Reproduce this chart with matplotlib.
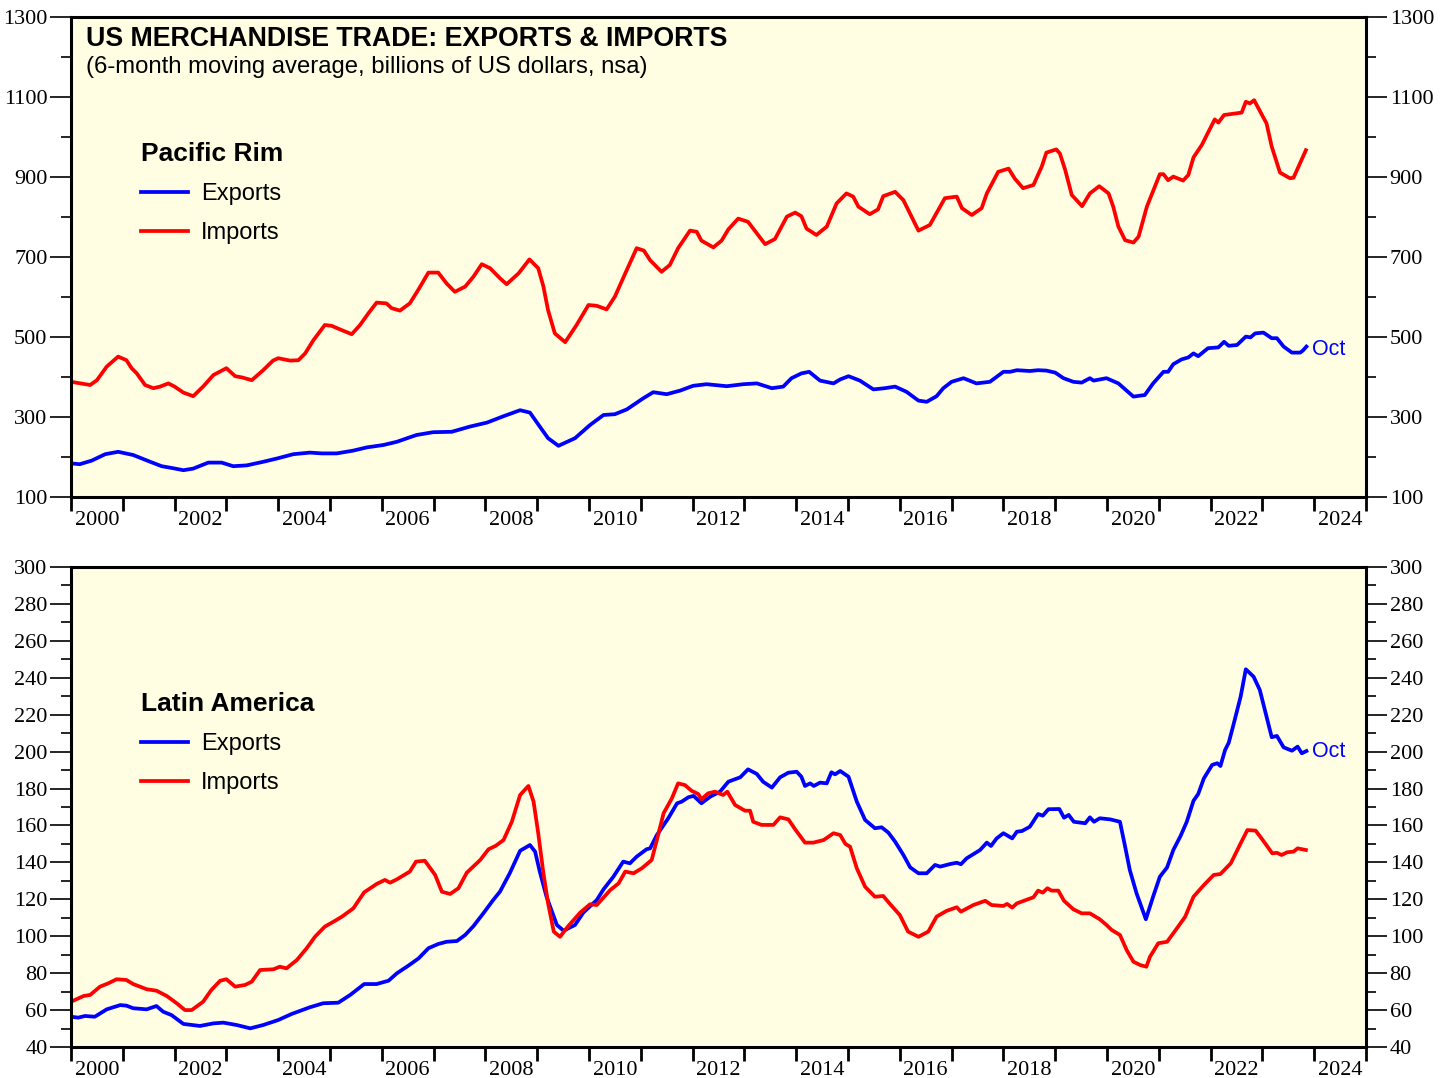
import numpy as np
import matplotlib.pyplot as plt
from matplotlib.ticker import FixedLocator, MultipleLocator, NullFormatter

# Pacific Rim, exports (time in decimal years, values in billions of US$)
pr_exp_t = [2000.0, 2000.17, 2000.4, 2000.66, 2000.91, 2001.2, 2001.53, 2001.75, 2001.97, 2002.17,
            2002.36, 2002.65, 2002.91, 2003.13, 2003.39, 2003.71, 2004.0, 2004.29, 2004.61, 2004.84,
            2005.13, 2005.45, 2005.71, 2006.03, 2006.29, 2006.67, 2006.99, 2007.35, 2007.7, 2008.03,
            2008.35, 2008.67, 2008.86, 2009.05, 2009.21, 2009.41, 2009.73, 2010.02, 2010.28, 2010.5,
            2010.73, 2011.05, 2011.24, 2011.5, 2011.76, 2012.01, 2012.27, 2012.66, 2012.98, 2013.24,
            2013.53, 2013.75, 2013.91, 2014.1, 2014.25, 2014.46, 2014.72, 2014.85, 2015.01, 2015.23,
            2015.49, 2015.71, 2015.91, 2016.13, 2016.36, 2016.52, 2016.71, 2016.84, 2017.0, 2017.23,
            2017.48, 2017.74, 2018.0, 2018.13, 2018.26, 2018.51, 2018.67, 2018.83, 2019.0, 2019.16,
            2019.35, 2019.51, 2019.67, 2019.74, 2019.99, 2020.22, 2020.51, 2020.73, 2020.89, 2021.09,
            2021.18, 2021.28, 2021.44, 2021.57, 2021.67, 2021.76, 2021.95, 2022.15, 2022.26, 2022.35,
            2022.51, 2022.68, 2022.77, 2022.86, 2023.02, 2023.18, 2023.28, 2023.41, 2023.57, 2023.73,
            2023.78, 2023.85]
pr_exp_v = [184, 182, 191, 207, 213, 205, 188, 177, 172, 167,
            171, 186, 186, 177, 179, 188, 197, 207, 211, 209,
            209, 216, 224, 230, 238, 255, 262, 263, 276, 286,
            302, 317, 311, 276, 247, 228, 247, 280, 305, 307,
            319, 347, 362, 357, 366, 378, 382, 377, 382, 384,
            372, 376, 397, 409, 413, 391, 384, 394, 402, 391,
            369, 372, 376, 363, 341, 338, 352, 372, 388, 397,
            384, 388, 413, 413, 417, 415, 417, 416, 411, 397,
            388, 386, 397, 391, 397, 384, 351, 355, 384, 413,
            413, 432, 444, 449, 459, 452, 472, 474, 488, 478,
            480, 501, 499, 509, 511, 497, 497, 476, 461, 461,
            466, 476]

# Pacific Rim, imports
pr_imp_t = [2000.0, 2000.37, 2000.5, 2000.69, 2000.91, 2001.07, 2001.17, 2001.27, 2001.43, 2001.59,
            2001.72, 2001.88, 2002.0, 2002.17, 2002.36, 2002.55, 2002.75, 2003.0, 2003.17, 2003.3,
            2003.49, 2003.71, 2003.9, 2004.0, 2004.23, 2004.39, 2004.52, 2004.68, 2004.9, 2005.03,
            2005.23, 2005.42, 2005.58, 2005.74, 2005.9, 2006.09, 2006.19, 2006.35, 2006.54, 2006.7,
            2006.9, 2007.09, 2007.25, 2007.41, 2007.61, 2007.77, 2007.93, 2008.09, 2008.28, 2008.41,
            2008.64, 2008.85, 2009.02, 2009.12, 2009.21, 2009.34, 2009.54, 2009.76, 2009.99, 2010.15,
            2010.34, 2010.5, 2010.7, 2010.92, 2011.06, 2011.18, 2011.4, 2011.56, 2011.72, 2011.95,
            2012.08, 2012.17, 2012.4, 2012.56, 2012.69, 2012.88, 2013.07, 2013.17, 2013.4, 2013.59,
            2013.82, 2013.98, 2014.1, 2014.2, 2014.39, 2014.59, 2014.78, 2014.97, 2015.1, 2015.2,
            2015.42, 2015.58, 2015.68, 2015.91, 2016.07, 2016.36, 2016.58, 2016.87, 2017.1, 2017.2,
            2017.39, 2017.58, 2017.68, 2017.9, 2018.1, 2018.22, 2018.38, 2018.58, 2018.74, 2018.83,
            2019.02, 2019.09, 2019.19, 2019.32, 2019.52, 2019.67, 2019.85, 2020.03, 2020.12, 2020.22,
            2020.35, 2020.51, 2020.61, 2020.77, 2021.02, 2021.09, 2021.18, 2021.28, 2021.47, 2021.57,
            2021.67, 2021.83, 2022.08, 2022.15, 2022.26, 2022.6, 2022.68, 2022.76, 2022.84, 2023.08,
            2023.18, 2023.34, 2023.53, 2023.6, 2023.84]
pr_imp_v = [388, 380, 392, 426, 451, 442, 422, 409, 380, 372,
            376, 384, 376, 361, 352, 376, 405, 422, 402, 399,
            392, 417, 441, 447, 441, 442, 459, 492, 530, 528,
            517, 507, 530, 559, 586, 584, 572, 566, 584, 617,
            661, 661, 634, 613, 626, 651, 682, 672, 647, 632,
            659, 694, 672, 626, 567, 509, 487, 530, 580, 578,
            569, 601, 659, 722, 716, 692, 663, 680, 722, 766,
            763, 741, 724, 741, 769, 796, 788, 771, 732, 745,
            801, 811, 802, 771, 755, 776, 834, 859, 851, 826,
            807, 819, 852, 863, 842, 766, 780, 847, 851, 822,
            805, 822, 859, 913, 921, 896, 872, 880, 926, 961,
            969, 959, 919, 855, 827, 859, 877, 859, 826, 776,
            742, 736, 751, 826, 907, 907, 892, 901, 891, 905,
            949, 980, 1044, 1036, 1055, 1061, 1088, 1084, 1092, 1034,
            976, 911, 897, 898, 967]

# Latin America, exports
la_exp_t = [2000.0, 2000.14, 2000.27, 2000.46, 2000.69, 2000.95, 2001.07, 2001.2, 2001.46, 2001.65,
            2001.78, 2001.94, 2002.17, 2002.49, 2002.75, 2002.94, 2003.2, 2003.46, 2003.71, 2004.0,
            2004.26, 2004.61, 2004.87, 2005.16, 2005.39, 2005.66, 2005.9, 2006.13, 2006.29, 2006.51,
            2006.71, 2006.9, 2007.09, 2007.25, 2007.45, 2007.61, 2007.77, 2007.96, 2008.15, 2008.28,
            2008.47, 2008.67, 2008.86, 2008.96, 2009.05, 2009.18, 2009.38, 2009.51, 2009.73, 2009.89,
            2010.15, 2010.28, 2010.47, 2010.66, 2010.79, 2010.92, 2011.11, 2011.18, 2011.31, 2011.53,
            2011.7, 2011.79, 2011.92, 2012.02, 2012.17, 2012.34, 2012.53, 2012.69, 2012.92, 2013.07,
            2013.24, 2013.36, 2013.53, 2013.69, 2013.85, 2014.01, 2014.1, 2014.17, 2014.27, 2014.34,
            2014.46, 2014.59, 2014.68, 2014.75, 2014.85, 2015.01, 2015.17, 2015.33, 2015.52, 2015.65,
            2015.78, 2015.91, 2016.07, 2016.2, 2016.36, 2016.52, 2016.68, 2016.78, 2016.97, 2017.1,
            2017.18, 2017.29, 2017.55, 2017.68, 2017.76, 2017.87, 2018.0, 2018.17, 2018.26, 2018.36,
            2018.51, 2018.67, 2018.76, 2018.87, 2019.08, 2019.17, 2019.26, 2019.36, 2019.58, 2019.67,
            2019.75, 2019.86, 2020.06, 2020.25, 2020.35, 2020.44, 2020.57, 2020.75, 2020.89, 2021.02,
            2021.16, 2021.28, 2021.42, 2021.54, 2021.67, 2021.76, 2021.87, 2022.03, 2022.13, 2022.19,
            2022.28, 2022.35, 2022.44, 2022.58, 2022.68, 2022.83, 2022.95, 2023.08, 2023.18, 2023.28,
            2023.41, 2023.57, 2023.68, 2023.76, 2023.85]
la_exp_v = [56.4, 55.9, 56.8, 56.4, 60.4, 62.7, 62.4, 61.0, 60.4, 62.2,
            59.1, 57.3, 52.5, 51.4, 52.8, 53.2, 51.9, 50.1, 51.9, 54.6,
            57.9, 61.5, 63.7, 64.0, 68.2, 74.1, 74.1, 75.9, 79.9, 84.0,
            88.0, 93.5, 95.8, 97.0, 97.4, 100.7, 105.5, 112.4, 119.6, 124.1,
            134.1, 146.3, 149.4, 145.8, 135.0, 121.4, 106.1, 103.0, 106.1, 112.8,
            119.6, 125.4, 132.2, 140.4, 139.5, 143.1, 147.1, 147.6, 154.8, 163.9,
            172.0, 172.9, 175.3, 176.0, 172.0, 175.6, 178.3, 183.7, 186.1, 190.4,
            187.9, 183.7, 180.5, 186.1, 188.6, 189.1, 186.4, 181.4, 182.8, 181.4,
            183.2, 182.8, 188.8, 187.7, 189.5, 186.4, 172.9, 163.0, 158.5, 159.0,
            156.1, 151.2, 144.0, 137.3, 134.1, 134.1, 138.6, 137.7, 139.1, 139.8,
            139.0, 142.2, 146.7, 150.7, 148.9, 153.0, 155.8, 153.0, 156.6, 157.0,
            159.3, 166.2, 165.3, 168.8, 168.9, 164.2, 165.7, 162.0, 161.2, 164.4,
            162.0, 163.9, 163.3, 162.0, 148.5, 135.9, 123.3, 109.2, 121.4, 132.2,
            137.3, 146.7, 154.3, 162.0, 173.4, 177.0, 185.5, 192.8, 193.7, 192.2,
            200.9, 204.8, 214.4, 229.8, 244.6, 240.6, 233.4, 218.9, 207.8, 208.5,
            202.3, 200.5, 202.7, 199.1, 200.3]

# Latin America, imports
la_imp_t = [2000.0, 2000.24, 2000.37, 2000.56, 2000.72, 2000.88, 2001.07, 2001.2, 2001.46, 2001.65,
            2001.85, 2002.04, 2002.2, 2002.33, 2002.55, 2002.71, 2002.88, 2003.0, 2003.17, 2003.36,
            2003.49, 2003.65, 2003.91, 2004.03, 2004.16, 2004.36, 2004.55, 2004.71, 2004.9, 2005.1,
            2005.23, 2005.45, 2005.66, 2005.9, 2006.06, 2006.16, 2006.29, 2006.54, 2006.66, 2006.83,
            2007.03, 2007.16, 2007.32, 2007.48, 2007.64, 2007.9, 2008.06, 2008.2, 2008.35, 2008.51,
            2008.67, 2008.83, 2008.93, 2009.02, 2009.12, 2009.21, 2009.32, 2009.44, 2009.6, 2009.83,
            2010.02, 2010.15, 2010.41, 2010.57, 2010.7, 2010.86, 2011.02, 2011.21, 2011.31, 2011.44,
            2011.6, 2011.72, 2011.85, 2011.98, 2012.11, 2012.17, 2012.3, 2012.43, 2012.59, 2012.67,
            2012.82, 2013.01, 2013.11, 2013.17, 2013.33, 2013.56, 2013.69, 2013.85, 2013.98, 2014.17,
            2014.33, 2014.53, 2014.72, 2014.85, 2014.95, 2015.04, 2015.17, 2015.33, 2015.52, 2015.68,
            2015.81, 2016.0, 2016.16, 2016.36, 2016.55, 2016.71, 2016.9, 2017.1, 2017.18, 2017.42,
            2017.65, 2017.77, 2018.0, 2018.07, 2018.17, 2018.26, 2018.58, 2018.67, 2018.76, 2018.85,
            2018.93, 2019.06, 2019.17, 2019.35, 2019.51, 2019.67, 2019.86, 2019.99, 2020.09, 2020.25,
            2020.38, 2020.51, 2020.64, 2020.76, 2020.83, 2020.99, 2021.16, 2021.35, 2021.51, 2021.67,
            2021.87, 2022.06, 2022.19, 2022.39, 2022.58, 2022.71, 2022.87, 2023.03, 2023.19, 2023.28,
            2023.37, 2023.48, 2023.6, 2023.68, 2023.84]
la_imp_v = [64.5, 67.6, 68.2, 72.7, 74.5, 76.7, 76.3, 74.1, 71.3, 70.5,
            67.6, 63.7, 60.0, 60.0, 64.5, 70.9, 75.9, 76.7, 72.7, 73.6,
            75.4, 81.7, 82.1, 83.5, 82.6, 87.1, 93.5, 99.7, 105.2, 108.4,
            110.6, 115.1, 123.8, 128.3, 130.5, 129.0, 130.8, 135.0, 140.4, 140.9,
            133.2, 124.1, 122.9, 126.0, 134.4, 141.3, 147.1, 149.0, 152.1, 162.0,
            176.5, 181.4, 172.9, 155.8, 134.1, 117.8, 102.5, 99.7, 105.5, 112.8,
            117.3, 116.9, 125.0, 128.6, 135.0, 134.1, 136.8, 141.3, 152.1, 166.6,
            174.7, 182.8, 181.9, 178.8, 177.0, 174.2, 177.4, 178.3, 176.5, 178.3,
            171.1, 168.0, 168.0, 162.0, 160.3, 160.3, 164.4, 163.3, 157.9, 150.7,
            150.7, 152.1, 155.8, 154.8, 150.0, 148.5, 136.8, 126.8, 121.4, 121.8,
            117.5, 111.5, 102.5, 99.7, 102.5, 110.6, 113.7, 115.7, 113.3, 116.9,
            119.2, 116.9, 116.4, 117.5, 115.5, 117.8, 121.1, 124.7, 123.6, 126.0,
            124.7, 124.7, 119.2, 114.6, 112.4, 112.4, 109.2, 106.1, 103.4, 100.7,
            92.5, 86.2, 84.4, 83.5, 88.9, 96.2, 97.0, 104.3, 110.6, 121.4,
            127.7, 133.2, 133.7, 139.5, 150.3, 157.5, 157.2, 151.2, 144.9, 145.2,
            144.0, 145.5, 145.8, 147.6, 146.7]

year_labels = [str(y) for y in range(2000, 2025, 2)]

BG = '#fffee3'
BLUE = '#0000ff'
RED = '#ff0000'
SANS = 'Liberation Sans'
SERIF = 'Liberation Serif'

fig = plt.figure(figsize=(14.48, 10.78), dpi=100)
ax1 = fig.add_axes([71/1448, 1 - 497/1078, 1295/1448, 480/1078])
ax2 = fig.add_axes([71/1448, 1 - 1047/1078, 1295/1448, 480/1078])


def style_axis(ax, yticks, minor):
    ax.set_facecolor(BG)
    ax.set_xlim(2000, 2025)
    ax.set_ylim(yticks[0], yticks[-1])
    for s in ax.spines.values():
        s.set_linewidth(2.2)
    # year ticks, labels centred in the middle of even years
    ax.xaxis.set_major_locator(MultipleLocator(1))
    ax.xaxis.set_major_formatter(NullFormatter())
    ax.xaxis.set_minor_locator(FixedLocator([int(y) + 0.5 for y in year_labels]))
    ax.set_xticklabels(year_labels, minor=True)
    ax.tick_params(axis='x', which='major', direction='out', length=10, width=2)
    ax.tick_params(axis='x', which='minor', length=0, pad=10, labelsize=16)
    ax.yaxis.set_major_locator(FixedLocator(yticks))
    ax.yaxis.set_minor_locator(MultipleLocator(minor))
    ax.tick_params(axis='y', which='both', left=True, right=True,
                   labelleft=True, labelright=True, direction='out', labelsize=16, width=1.2)
    ax.tick_params(axis='y', which='major', length=15, pad=2)
    ax.tick_params(axis='y', which='minor', length=7)
    for lab in ax.get_xticklabels(minor=True) + ax.get_yticklabels():
        lab.set_fontfamily(SERIF)


style_axis(ax1, list(range(100, 1301, 200)), 100)
style_axis(ax2, list(range(40, 301, 20)), 10)

ax1.plot(pr_exp_t, pr_exp_v, color=BLUE, lw=2.7, label='Exports')
ax1.plot(pr_imp_t, pr_imp_v, color=RED, lw=2.7, label='Imports')
ax2.plot(la_exp_t, la_exp_v, color=BLUE, lw=2.7, label='Exports')
ax2.plot(la_imp_t, la_imp_v, color=RED, lw=2.7, label='Imports')

ax1.text(0.0116, 0.954, 'US MERCHANDISE TRADE: EXPORTS & IMPORTS', transform=ax1.transAxes,
         fontsize=19.3, fontweight='bold', family=SANS, va='center')
ax1.text(0.0116, 0.896, '(6-month moving average, billions of US dollars, nsa)', transform=ax1.transAxes,
         fontsize=17.2, family=SANS, va='center')

for ax, name in [(ax1, 'Pacific Rim'), (ax2, 'Latin America')]:
    leg = ax.legend(loc='upper left', bbox_to_anchor=(70/1295, 0.739), frameon=False,
                    title=name, prop={'family': SANS, 'size': 17}, handlelength=2.0,
                    handletextpad=0.55, labelspacing=0.72, borderpad=0, borderaxespad=0)
    leg.get_title().set_fontproperties({'family': SANS, 'size': 19, 'weight': 'bold'})
    leg._legend_box.align = 'left'

ax1.annotate('Oct', (pr_exp_t[-1], pr_exp_v[-1]), xytext=(4, -2), textcoords='offset points',
             color=BLUE, fontsize=15.5, family=SANS, va='center')
ax2.annotate('Oct', (la_exp_t[-1], la_exp_v[-1]), xytext=(4, 0), textcoords='offset points',
             color=BLUE, fontsize=15.5, family=SANS, va='center')

fig.savefig('out.png', dpi=100)
